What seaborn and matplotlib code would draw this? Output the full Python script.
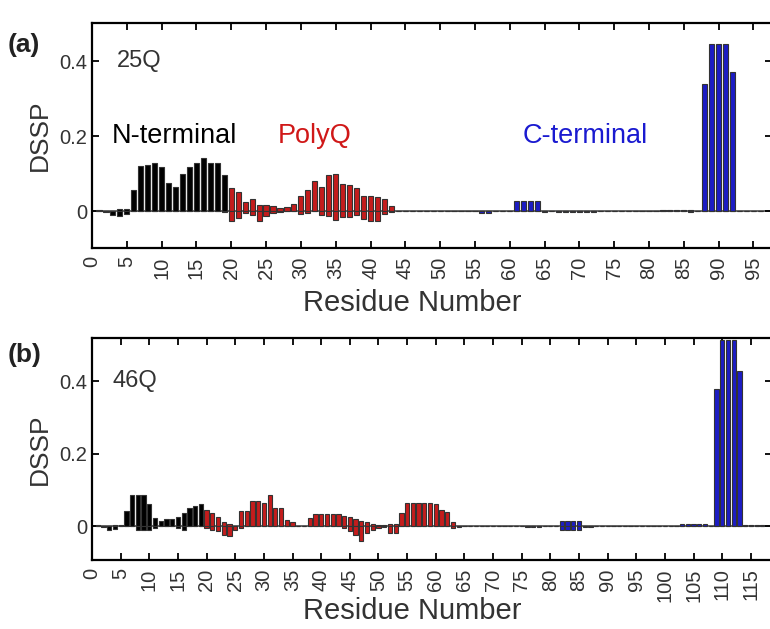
import numpy as np
import pandas as pd
import matplotlib
matplotlib.use("Agg")
import matplotlib.pyplot as plt
import seaborn as sns

# DSSP per residue, positive (helix) and negative (sheet) parts, residues 1..96
helix_25q = [0.003, 0.002, 0.002, 0.005, 0.005, 0.058, 0.122, 0.124, 0.128, 0.118,
             0.075, 0.066, 0.100, 0.118, 0.128, 0.142, 0.128, 0.128, 0.096, 0.062,
             0.052, 0.025, 0.034, 0.016, 0.018, 0.013, 0.010, 0.011, 0.020, 0.042,
             0.057, 0.082, 0.066, 0.096, 0.099, 0.072, 0.070, 0.063, 0.042, 0.042,
             0.039, 0.034, 0.013, 0.0, 0.0, 0.0, 0.0, 0.0, 0.0, 0.0,
             0.0, 0.002, 0.002, 0.002, 0.002, 0.0, 0.0, 0.0, 0.0, 0.0,
             0.027, 0.027, 0.027, 0.027, 0.0, 0.0, 0.0, 0.0, 0.0, 0.0,
             0.0, 0.0, 0.0, 0.0, 0.0, 0.0, 0.0, 0.0, 0.0, 0.0,
             0.002, 0.004, 0.004, 0.004, 0.004, 0.004, 0.0, 0.340, 0.445, 0.445,
             0.445, 0.372, 0.002, 0.002, 0.002, 0.002]
sheet_25q = [0.0, -0.002, -0.010, -0.012, -0.008, 0.0, 0.0, 0.0, 0.0, 0.0,
             0.0, 0.0, 0.0, 0.0, 0.0, 0.0, 0.0, 0.0, -0.003, -0.025,
             -0.017, -0.005, -0.010, -0.026, -0.012, -0.005, -0.002, 0.0, 0.0, -0.007,
             -0.004, 0.0, -0.010, -0.012, -0.024, -0.015, -0.015, -0.010, -0.020, -0.025,
             -0.025, -0.007, -0.003, 0.0, 0.0, 0.0, 0.0, 0.0, 0.0, 0.0,
             0.0, 0.0, 0.0, 0.0, 0.0, -0.004, -0.004, 0.0, 0.0, 0.0,
             0.0, 0.0, 0.0, 0.0, -0.003, 0.0, -0.002, -0.002, -0.002, -0.002,
             -0.002, -0.002, 0.0, 0.0, 0.0, 0.0, 0.0, 0.0, 0.0, 0.0,
             0.0, 0.0, 0.0, 0.0, 0.0, -0.002, 0.0, 0.0, 0.0, 0.0,
             0.0, 0.0, 0.0, 0.0, 0.0, 0.0]

# residues 1..117
helix_46q = [0.003, 0.0, 0.0, 0.002, 0.002, 0.042, 0.085, 0.085, 0.085, 0.060,
             0.021, 0.015, 0.020, 0.020, 0.026, 0.036, 0.050, 0.055, 0.060, 0.045,
             0.035, 0.025, 0.010, 0.005, 0.0, 0.042, 0.042, 0.070, 0.070, 0.065,
             0.086, 0.050, 0.050, 0.018, 0.010, 0.0, 0.0, 0.023, 0.034, 0.034,
             0.034, 0.034, 0.034, 0.027, 0.025, 0.020, 0.015, 0.010, 0.005, 0.003,
             0.003, 0.005, 0.005, 0.037, 0.065, 0.065, 0.065, 0.065, 0.065, 0.060,
             0.045, 0.040, 0.010, 0.0, 0.0, 0.0, 0.0, 0.0, 0.0, 0.0,
             0.0, 0.0, 0.0, 0.0, 0.0, 0.0, 0.0, 0.0, 0.0, 0.0,
             0.0, 0.014, 0.014, 0.014, 0.014, 0.0, 0.0, 0.0, 0.0, 0.0,
             0.0, 0.0, 0.0, 0.0, 0.0, 0.0, 0.0, 0.0, 0.0, 0.0,
             0.0, 0.0, 0.006, 0.006, 0.006, 0.006, 0.006, 0.0, 0.380, 0.515,
             0.515, 0.515, 0.430, 0.002, 0.002, 0.002, 0.002]
sheet_46q = [0.0, -0.004, -0.011, -0.008, 0.0, 0.0, 0.0, -0.010, -0.010, -0.010,
             -0.005, 0.0, 0.0, 0.0, -0.006, -0.010, 0.0, 0.0, 0.0, -0.005,
             -0.012, -0.015, -0.025, -0.028, -0.012, -0.005, 0.0, 0.0, 0.0, 0.0,
             0.0, 0.0, 0.0, 0.0, 0.0, 0.0, 0.0, 0.0, 0.0, 0.0,
             0.0, 0.0, 0.0, -0.005, -0.015, -0.025, -0.042, -0.020, -0.010, -0.005,
             -0.003, -0.020, -0.020, 0.0, 0.0, 0.0, 0.0, 0.0, 0.0, 0.0,
             0.0, 0.0, -0.005, -0.002, 0.0, 0.0, 0.0, 0.0, 0.0, 0.0,
             0.0, 0.0, 0.0, 0.0, 0.0, -0.003, -0.003, -0.003, 0.0, 0.0,
             0.0, -0.010, -0.010, -0.010, -0.010, -0.003, -0.003, 0.0, 0.0, 0.0,
             0.0, 0.0, 0.0, 0.0, 0.0, 0.0, 0.0, 0.0, 0.0, 0.0,
             0.0, 0.0, 0.0, 0.0, 0.0, 0.0, 0.0, 0.0, 0.0, 0.0,
             0.0, 0.0, 0.0, 0.0, 0.0, 0.0, 0.0]

nterm_last = 19
polyq_last_25q = 43
polyq_last_46q = 63

colors = {"N-terminal": "black", "PolyQ": "#e00000", "C-terminal": "#0000e0"}


def make_df(helix, sheet, polyq_last):
    res = np.arange(1, len(helix) + 1)
    region = np.where(res <= nterm_last, "N-terminal",
                      np.where(res <= polyq_last, "PolyQ", "C-terminal"))
    return pd.DataFrame({"residue": res, "helix": helix, "sheet": sheet, "region": region})


sns.set_style("ticks")
plt.rcParams["font.family"] = ["Liberation Sans", "DejaVu Sans"]

fig = plt.figure(figsize=(7.7, 6.29), dpi=100)
ax_a = fig.add_axes([0.1195, 0.6057, 0.8825, 0.3577])
ax_b = fig.add_axes([0.1195, 0.1097, 0.8825, 0.3529])


def draw(ax, df, xmax, ylim, xticks, name, xlabel_y):
    ax.axhline(0, color="0.3", lw=1.2, zorder=0)
    for col in ["helix", "sheet"]:
        sns.barplot(data=df, x="residue", y=col, hue="region", palette=colors,
                    native_scale=True, dodge=False, width=0.74, edgecolor="0.2",
                    linewidth=0.8, errorbar=None, legend=False, ax=ax)
    ax.set_xlim(0, xmax)
    ax.set_ylim(*ylim)
    ax.set_xticks(xticks)
    ax.set_xticklabels([str(t) for t in xticks], rotation=90)
    ax.set_yticks([0, 0.2, 0.4])
    ax.set_yticklabels(["0", "0.2", "0.4"])
    ax.tick_params(direction="in", top=True, right=True, length=5, width=1.3,
                   labelsize=14.5, color="black", labelcolor="#333333")
    ax.tick_params(axis="x", labelsize=14.5, pad=6)
    for s in ax.spines.values():
        s.set_linewidth(1.6)
        s.set_color("black")
    ax.set_xlabel("Residue Number", fontsize=21, color="#333333", va="center")
    ax.xaxis.set_label_coords(0.471, xlabel_y)
    ax.set_ylabel("DSSP", fontsize=19, labelpad=5, color="#333333")
    ax.text(3.6, 0.4, name, fontsize=17, va="center", ha="left", color="#333333")


draw(ax_a, make_df(helix_25q, sheet_25q, polyq_last_25q), 97.6, (-0.098, 0.502),
     list(range(0, 96, 5)), "25Q", -0.245)
draw(ax_b, make_df(helix_46q, sheet_46q, polyq_last_46q), 118.6, (-0.094, 0.52),
     list(range(0, 116, 5)), "46Q", -0.228)

ax_a.text(2.9, 0.2, "N-terminal", color="black", fontsize=19.5, va="center", ha="left")
ax_a.text(26.7, 0.2, "PolyQ", color="#d01818", fontsize=19.5, va="center", ha="left")
ax_a.text(61.8, 0.2, "C-terminal", color="#1a1ad0", fontsize=19.5, va="center", ha="left")

fig.text(0.010, 1 - 45 / 629, "(a)", fontsize=19, fontweight="bold", va="center",
         color="#222222")
fig.text(0.010, 1 - 355 / 629, "(b)", fontsize=19, fontweight="bold", va="center",
         color="#222222")

fig.savefig("out.png", dpi=100)
